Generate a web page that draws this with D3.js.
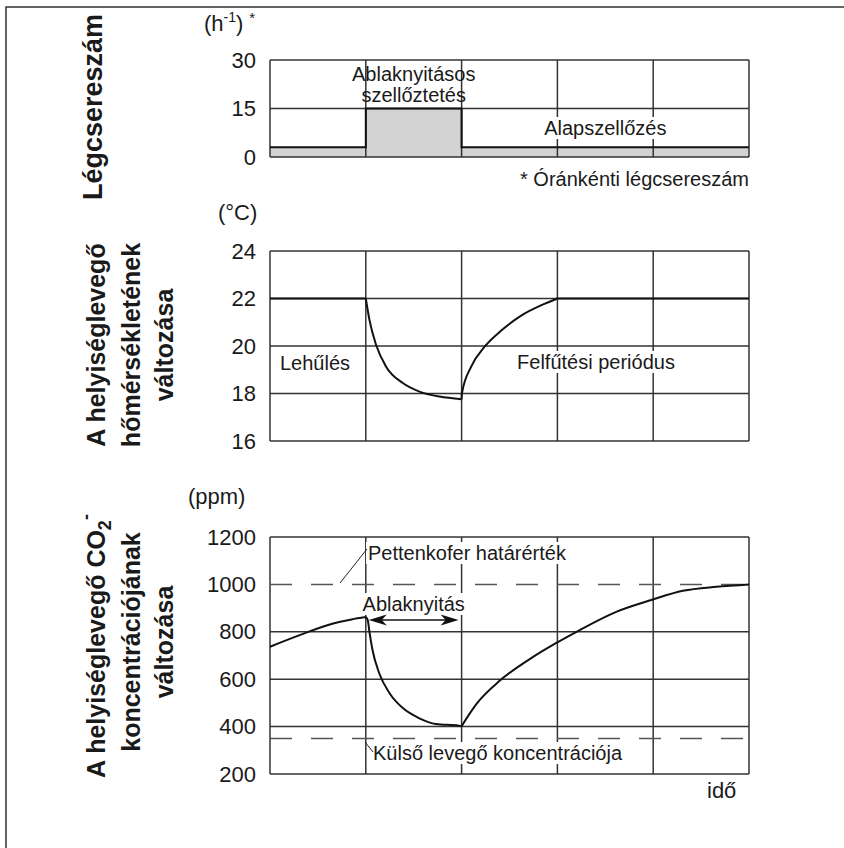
<!DOCTYPE html>
<html>
<head>
<meta charset="utf-8">
<script src="https://cdn.jsdelivr.net/npm/d3@7"></script>
<style>
  body { margin: 0; background: #fff; }
  text { font-family: "Liberation Sans", Arial, sans-serif; fill: #1a1a1a; }
</style>
</head>
<body>
<div class="chart"></div>
<script>

// time axis (one unit = one grid column)
var timeTicks = [0, 1, 2, 3, 4, 5];

// air change rate (h-1)
var airTicks = [0, 15, 30];
var airTime = [0, 1, 1, 2, 2, 5];
var airRate = [3, 3, 15, 15, 3, 3];

// room temperature (°C), drawn in segments
var tempTicks = [16, 18, 20, 22, 24];
var tempStartTime = [0, 1];
var tempStartVal = [22, 22];
var tempCoolTime = [1, 1.038, 1.107, 1.212, 1.386, 1.56, 1.769, 2];
var tempCoolVal = [22, 21.1, 20.05, 19.13, 18.44, 18.08, 17.87, 17.76];
var tempHeatTime = [2, 2.003, 2.1, 2.24, 2.42, 2.63, 2.84, 3];
var tempHeatVal = [17.76, 18, 19.13, 19.97, 20.67, 21.3, 21.73, 22];
var tempEndTime = [3, 5];
var tempEndVal = [22, 22];

// CO2 concentration (ppm)
var co2Ticks = [200, 400, 600, 800, 1000, 1200];
var co2GridTicks = [200, 400, 600, 800, 1200];
var co2RiseTime = [0, 0.31, 0.66, 0.85, 1];
var co2RiseVal = [737, 786, 835, 852, 862];
var co2DropTime = [1, 1.02, 1.04, 1.07, 1.14, 1.25, 1.39, 1.56, 1.73, 1.97, 2];
var co2DropVal = [862, 850, 794, 723, 625, 540, 477, 435, 411, 404, 402];
var co2BackTime = [2, 2.16, 2.4, 2.75, 2.98, 3.2, 3.62, 3.98, 4.31, 4.66, 5];
var co2BackVal = [402, 498, 594, 695, 751, 800, 885, 934, 973, 990, 1000];
var co2Limits = [1000, 350];

var gridColor = "#333";

var x = d3.scaleLinear().domain([0, 5]).range([270, 749]);
var yAir = d3.scaleLinear().domain([0, 30]).range([157, 60]);
var yTemp = d3.scaleLinear().domain([16, 24]).range([441, 251]);
var yCo2 = d3.scaleLinear().domain([200, 1200]).range([774, 537]);

var svg = d3.select(".chart")
    .append("svg")
      .attr("width", 844)
      .attr("height", 848);

svg.append("rect")
  .attr("width", "100%")
  .attr("height", "100%")
  .attr("fill", "#fff");

// outer frame (top + left only)
svg.append("path")
  .attr("d", "M6,848V7H844")
  .attr("fill", "none")
  .attr("stroke", "#333")
  .attr("stroke-width", 1.5);

function drawGrid(y, gridTicks, labelTicks) {
  var g = svg.append("g");
  var dom = y.domain();
  g.selectAll(".hgrid")
    .data(gridTicks)
    .enter().append("line")
      .attr("x1", x(0)).attr("x2", x(5))
      .attr("y1", function(d) { return y(d); })
      .attr("y2", function(d) { return y(d); })
      .attr("stroke", gridColor)
      .attr("stroke-width", 1.5);
  g.selectAll(".vgrid")
    .data(timeTicks)
    .enter().append("line")
      .attr("x1", function(d) { return x(d); })
      .attr("x2", function(d) { return x(d); })
      .attr("y1", y(dom[0]))
      .attr("y2", y(dom[1]))
      .attr("stroke", gridColor)
      .attr("stroke-width", 1.5);

  var axis = svg.append("g")
    .attr("transform", "translate(" + x(0) + ",0)")
    .call(d3.axisLeft(y).tickValues(labelTicks || gridTicks).tickSize(0).tickPadding(x(0) - 256).tickFormat(d3.format("d")));
  axis.select(".domain").remove();
  axis.selectAll("text")
    .style("font-size", "22px")
    .style("font-family", "'Liberation Sans', Arial, sans-serif")
    .attr("fill", "#1a1a1a");
}

function seg(times, vals, y) {
  var line = d3.line()
    .x(function(i) { return x(times[i]); })
    .y(function(i) { return y(vals[i]); })
    .curve(d3.curveMonotoneX);
  svg.append("path")
    .attr("d", line(d3.range(times.length)))
    .attr("fill", "none")
    .attr("stroke", "#111")
    .attr("stroke-width", 2);
}

function label(txt, px, py, anchor, size, bg) {
  var t = svg.append("text")
    .attr("x", px)
    .attr("y", py)
    .attr("text-anchor", anchor || "start")
    .style("font-size", (size || 20) + "px")
    .text(txt);
  if (bg) {
    var b = t.node().getBBox();
    svg.insert("rect", function() { return t.node(); })
      .attr("x", b.x - 2).attr("y", b.y)
      .attr("width", b.width + 4).attr("height", b.height)
      .attr("fill", "#fff");
  }
  return t;
}

function sideTitle(lines, cy, size) {
  lines.forEach(function(l) {
    var t = svg.append("text")
      .attr("transform", "translate(" + l.bx + "," + (l.cy || cy) + ") rotate(-90)")
      .attr("text-anchor", "middle")
      .style("font-size", size + "px")
      .style("font-weight", "bold");
    if (l.sub) {
      t.append("tspan").text(l.text);
      t.append("tspan").attr("dy", 6).style("font-size", "18px").text(l.sub);
      t.append("tspan").attr("dy", -19).style("font-size", "18px").text(l.sup);
    } else {
      t.text(l.text);
    }
  });
}

// ---------- panel 1 : air change rate ----------
var airArea = d3.area()
  .x(function(i) { return x(airTime[i]); })
  .y0(yAir(0))
  .y1(function(i) { return yAir(airRate[i]); });
svg.append("path")
  .attr("d", airArea(d3.range(airTime.length)))
  .attr("fill", "#d3d3d3");

drawGrid(yAir, airTicks);

var airLine = d3.line()
  .x(function(i) { return x(airTime[i]); })
  .y(function(i) { return yAir(airRate[i]); });
svg.append("path")
  .attr("d", airLine(d3.range(airTime.length)))
  .attr("fill", "none")
  .attr("stroke", "#111")
  .attr("stroke-width", 2);

var unitAir = svg.append("text").attr("x", 204).attr("y", 31).style("font-size", "22px");
unitAir.append("tspan").text("(h");
unitAir.append("tspan").attr("dy", -9).style("font-size", "14px").text("-1");
unitAir.append("tspan").attr("dy", 9).text(")");
unitAir.append("tspan").attr("dx", 6).attr("dy", -8).style("font-size", "15px").text("*");

label("Ablaknyitásos", x(1.5), 81, "middle", 20);
label("szellőztetés", x(1.5), 102, "middle", 20);
label("Alapszellőzés", x(3.5), 135, "middle", 20, true);
label("* Óránkénti légcsereszám", x(5), 186, "end", 20);

sideTitle([{ text: "Légcsereszám", bx: 102 }], 107, 27);

// ---------- panel 2 : temperature ----------
drawGrid(yTemp, tempTicks);
seg(tempStartTime, tempStartVal, yTemp);
seg(tempCoolTime, tempCoolVal, yTemp);
seg(tempHeatTime, tempHeatVal, yTemp);
seg(tempEndTime, tempEndVal, yTemp);

label("(°C)", 218, 220, "start", 22);
label("Lehűlés", 280, 370, "start", 20, true);
label("Felfűtési periódus", 596, 369, "middle", 20, true);

sideTitle([
  { text: "A helyiséglevegő", bx: 105 },
  { text: "hőmérsékletének", bx: 140 },
  { text: "változása", bx: 173 }
], 345, 25);

// ---------- panel 3 : CO2 ----------
drawGrid(yCo2, co2GridTicks, co2Ticks);

svg.selectAll(".limit")
  .data(co2Limits)
  .enter().append("line")
    .attr("x1", x(0)).attr("x2", x(5))
    .attr("y1", function(d) { return yCo2(d); })
    .attr("y2", function(d) { return yCo2(d); })
    .attr("stroke", "#555")
    .attr("stroke-width", 1.5)
    .attr("stroke-dasharray", "22,19");

seg(co2RiseTime, co2RiseVal, yCo2);
seg(co2DropTime, co2DropVal, yCo2);
seg(co2BackTime, co2BackVal, yCo2);

label("(ppm)", 188, 504, "start", 22);
label("Pettenkofer határérték", 368, 560, "start", 20, true);
label("Ablaknyitás", x(1.5), 611, "middle", 20, true);
label("Külső levegő koncentrációja", 373, 760, "start", 20, true);
label("idő", 707, 798, "start", 22);

// leader lines
svg.append("line")
  .attr("x1", 340).attr("y1", 583).attr("x2", 367).attr("y2", 549)
  .attr("stroke", "#222").attr("stroke-width", 1);
svg.append("line")
  .attr("x1", 365).attr("y1", 742).attr("x2", 373).attr("y2", 752)
  .attr("stroke", "#222").attr("stroke-width", 1);

// double arrow for the window opening period
var ay = yCo2(850), ax1 = x(1) + 3, ax2 = x(2) - 3;
svg.append("line")
  .attr("x1", ax1 + 10).attr("x2", ax2 - 10)
  .attr("y1", ay).attr("y2", ay)
  .attr("stroke", "#111").attr("stroke-width", 1.5);
svg.append("path")
  .attr("d", "M" + ax1 + "," + ay + "L" + (ax1 + 18) + "," + (ay - 5.5) + "L" + (ax1 + 13) + "," + ay + "L" + (ax1 + 18) + "," + (ay + 5.5) + "Z")
  .attr("fill", "#111");
svg.append("path")
  .attr("d", "M" + ax2 + "," + ay + "L" + (ax2 - 18) + "," + (ay - 5.5) + "L" + (ax2 - 13) + "," + ay + "L" + (ax2 - 18) + "," + (ay + 5.5) + "Z")
  .attr("fill", "#111");

sideTitle([
  { text: "A helyiséglevegő CO", sub: "2", sup: "-", bx: 105, cy: 646 },
  { text: "koncentrációjának", bx: 140 },
  { text: "változása", bx: 173 }
], 642, 25);

</script>
</body>
</html>
